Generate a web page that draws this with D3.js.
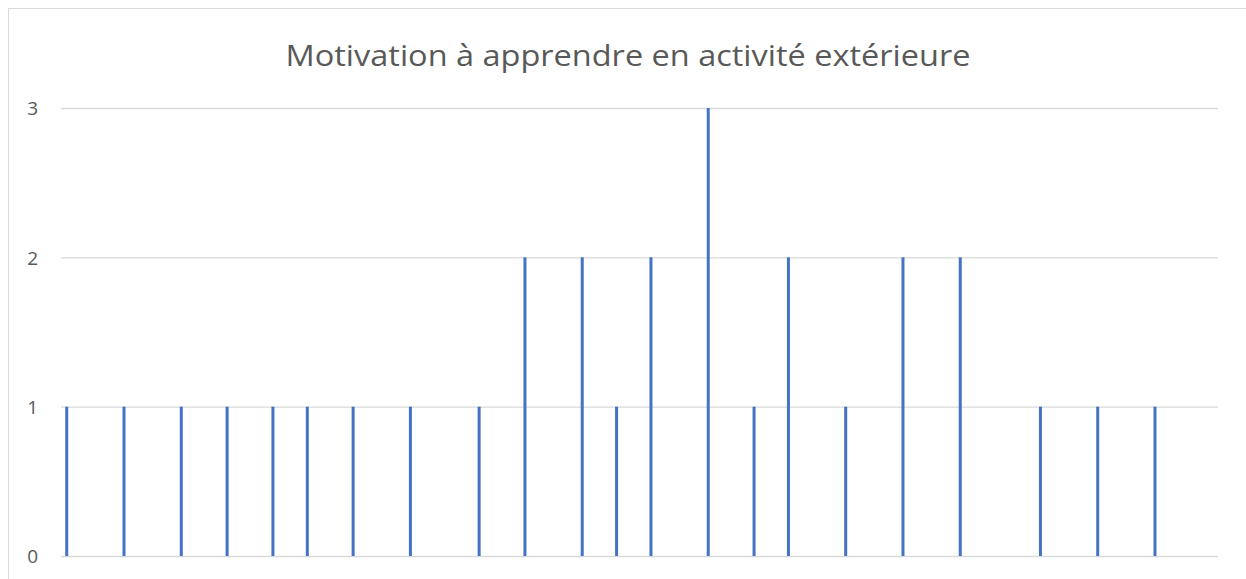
<!DOCTYPE html>
<html>
<head>
<meta charset="utf-8">
<script src="https://cdn.jsdelivr.net/npm/d3@7"></script>
<style>
  body { margin: 0; background: #fff; }
  svg { display: block; font-family: "Open Sans", sans-serif; }
</style>
</head>
<body>
<div id="chart"></div>
<script>
// data: score -> number of answers
const title = "Motivation à apprendre en activité extérieure";
const scores = [0, 5, 10, 14, 18, 21, 25, 30, 36, 40, 45, 48, 51, 56, 60, 63, 68, 73, 78, 85, 90, 95];
const counts = [1, 1, 1, 1, 1, 1, 1, 1, 1, 2, 2, 1, 2, 3, 1, 2, 1, 2, 2, 1, 1, 1];
const yTicks = [0, 1, 2, 3];
const categories = d3.range(0, 101); // category axis 0..100

const W = 1246, H = 579;
const margin = {top: 108, right: 28, bottom: 23, left: 61};

const svg = d3.select("#chart")
  .append("svg")
    .attr("width", W)
    .attr("height", H);

// chart area border
svg.append("rect")
  .attr("x", 8.5).attr("y", 8.5)
  .attr("width", W + 20).attr("height", H + 20)
  .attr("fill", "none")
  .attr("stroke", "#d9d9d9")
  .attr("stroke-width", 1);

const x = d3.scaleBand()
  .domain(categories)
  .range([margin.left, W - margin.right])
  .padding(0);

const y = d3.scaleLinear()
  .domain([0, 3])
  .range([H - margin.bottom, margin.top]);

// gridlines + labels
const yAxis = svg.append("g")
  .attr("transform", `translate(${margin.left},0)`)
  .call(d3.axisLeft(y)
    .tickValues(yTicks)
    .tickFormat(d3.format("d"))
    .tickSize(-(W - margin.left - margin.right))
    .tickPadding(23));
yAxis.select(".domain").remove();
yAxis.selectAll(".tick line")
  .attr("stroke", "#d9d9d9")
  .attr("stroke-width", 1.3);
yAxis.selectAll(".tick text")
  .attr("fill", "#595959")
  .attr("dy", "0.36em")
  .style("font-size", "19px")
  .style("font-family", "'Open Sans', sans-serif");

// bars
svg.selectAll("rect.bar")
  .data(scores)
  .enter()
  .append("rect")
    .attr("class", "bar")
    .attr("x", (d) => x(d) + x.bandwidth() / 2 - 1.5)
    .attr("width", 3)
    .attr("y", (d, i) => y(counts[i]))
    .attr("height", (d, i) => y(0) - y(counts[i]))
    .attr("fill", "#4472C4");

// title
const t = svg.append("text")
  .attr("x", 628)
  .attr("y", 66)
  .attr("text-anchor", "middle")
  .attr("fill", "#595959")
  .style("font-size", "30px")
  .text(title);
const tw = t.node().getComputedTextLength();
if (Math.abs(tw - 685) > 4) {
  t.attr("textLength", 685).attr("lengthAdjust", "spacingAndGlyphs");
}
</script>
</body>
</html>
